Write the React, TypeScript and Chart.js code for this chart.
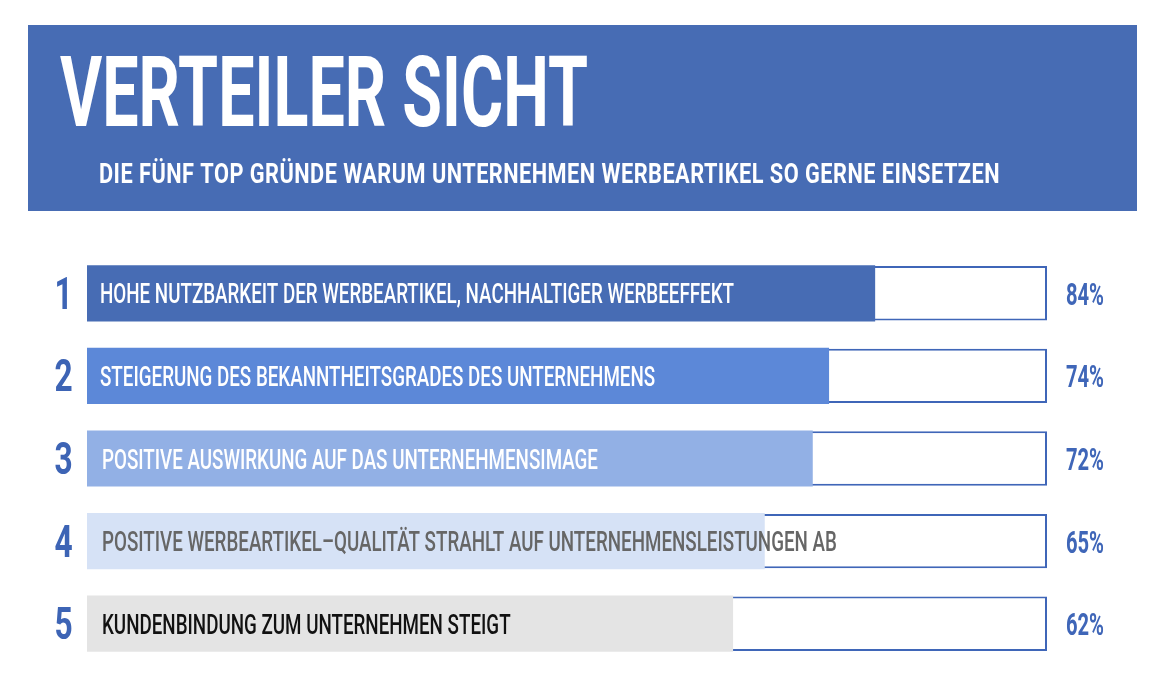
import React, { useEffect, useRef } from "react";
import { Chart, registerables } from "chart.js";

Chart.register(...registerables);

// ---------- data ----------
const titleText = "VERTEILER SICHT";
const subtitleText = "DIE FÜNF TOP GRÜNDE WARUM UNTERNEHMEN WERBEARTIKEL SO GERNE EINSETZEN";
const ranks = ["1", "2", "3", "4", "5"];
const categories = [
  "HOHE NUTZBARKEIT DER WERBEARTIKEL, NACHHALTIGER WERBEEFFEKT",
  "STEIGERUNG DES BEKANNTHEITSGRADES DES UNTERNEHMENS",
  "POSITIVE AUSWIRKUNG AUF DAS UNTERNEHMENSIMAGE",
  "POSITIVE WERBEARTIKEL–QUALITÄT STRAHLT AUF UNTERNEHMENSLEISTUNGEN AB",
  "KUNDENBINDUNG ZUM UNTERNEHMEN STEIGT",
];
// filled length of each bar as drawn (share of the frame, %)
const barLengths = [82.1, 77.3, 75.6, 70.6, 67.3];
// percentages printed at the right
const percentValues = [84, 74, 72, 65, 62];
// full frame for each row
const frameValues = [100, 100, 100, 100, 100];

// ---------- styles ----------
const HEADER_BG = "#476cb4";
const fillColors = ["#476cb4", "#5c88d8", "#92b0e5", "#d6e2f6", "#e4e4e4"];
const labelColors = ["#ffffff", "#ffffff", "#ffffff", "#666666", "#111111"];
const labelOffsets = [13, 13, 15, 15, 15];
const FRAME_COLOR = "#3f66b8";
const RANK_COLOR = "#3d64b5";
const PCT_COLOR = "#3f66b8";
const FONT = "Roboto, 'DejaVu Sans', sans-serif";

function drawScaled(
  ctx: CanvasRenderingContext2D,
  text: string,
  x: number,
  y: number,
  font: string,
  color: string,
  scaleX: number,
  align: CanvasTextAlign = "left",
  spacing = "0px"
) {
  ctx.save();
  ctx.font = font;
  (ctx as any).letterSpacing = spacing;
  ctx.fillStyle = color;
  ctx.textBaseline = "alphabetic";
  ctx.textAlign = align;
  ctx.translate(x, y);
  ctx.scale(scaleX, 1);
  ctx.fillText(text, 0, 0);
  ctx.restore();
}

function factorFor(ctx: CanvasRenderingContext2D, text: string, font: string, target: number, spacing = "0px") {
  ctx.save();
  ctx.font = font;
  (ctx as any).letterSpacing = spacing;
  const w = ctx.measureText(text).width;
  ctx.restore();
  return target / w;
}

const decorPlugin = {
  id: "decor",
  beforeDraw(chart: any) {
    const ctx: CanvasRenderingContext2D = chart.ctx;
    ctx.save();
    ctx.fillStyle = "#ffffff";
    ctx.fillRect(0, 0, chart.width, chart.height);
    ctx.fillStyle = HEADER_BG;
    ctx.fillRect(28, 25, 1109, 186);
    ctx.restore();

    const tFont = `bold 98px ${FONT}`;
    drawScaled(ctx, titleText, 60, 126, tFont, "#ffffff", factorFor(ctx, titleText, tFont, 528));
    const sFont = `bold 27px ${FONT}`;
    drawScaled(ctx, subtitleText, 99, 183, sFont, "#ffffff", factorFor(ctx, subtitleText, sFont, 901, "0.6px"), "left", "0.6px");
  },
  afterDatasetsDraw(chart: any) {
    const ctx: CanvasRenderingContext2D = chart.ctx;
    const yScale = chart.scales.y;
    const area = chart.chartArea;
    const lFont = `500 28px ${FONT}`;
    const lFactor = factorFor(ctx, categories[0], lFont, 634);
    const rFont = `bold 44px ${FONT}`;
    const rFactor = 0.72;
    const pFont = `bold 32px ${FONT}`;
    const pFactor = factorFor(ctx, "84%", pFont, 38);
    categories.forEach((cat, i) => {
      const cy = yScale.getPixelForValue(i);
      drawScaled(ctx, cat, area.left + labelOffsets[i], cy + 10, lFont, labelColors[i], lFactor);
      drawScaled(ctx, ranks[i], 63.5, cy + 15.5, rFont, RANK_COLOR, rFactor, "center");
      drawScaled(ctx, `${percentValues[i]}%`, area.right + 19, cy + 11.5, pFont, PCT_COLOR, pFactor);
    });
  },
};

export default function App() {
  const canvasRef = useRef<HTMLCanvasElement | null>(null);

  useEffect(() => {
    const canvas = canvasRef.current;
    if (!canvas) return;
    const chart = new Chart(canvas, {
      type: "bar",
      data: {
        labels: categories,
        datasets: [
          {
            label: "Anteil",
            data: barLengths,
            backgroundColor: fillColors,
            borderWidth: 0,
            barPercentage: 0.68,
            categoryPercentage: 1,
            grouped: false,
            order: 0,
          } as any,
          {
            label: "Rahmen",
            data: frameValues,
            backgroundColor: "#ffffff",
            borderColor: FRAME_COLOR,
            borderWidth: 2,
            barPercentage: 0.658,
            categoryPercentage: 1,
            grouped: false,
            order: 1,
          } as any,
        ],
      },
      options: {
        indexAxis: "y",
        responsive: false,
        animation: false,
        layout: { padding: { left: 87, right: 119, top: 252, bottom: 22 } },
        scales: {
          x: { display: false, min: 0, max: 100 },
          y: { display: false },
        },
        plugins: {
          legend: { display: false },
          tooltip: { enabled: false },
          title: { display: false },
        },
      },
      plugins: [decorPlugin],
    });
    return () => chart.destroy();
  }, []);

  return (
    <div style={{ position: "absolute", left: 0, top: 0, width: 1166, height: 687, background: "#fff" }}>
      <canvas ref={canvasRef} width={1166} height={687} style={{ display: "block" }} />
    </div>
  );
}
